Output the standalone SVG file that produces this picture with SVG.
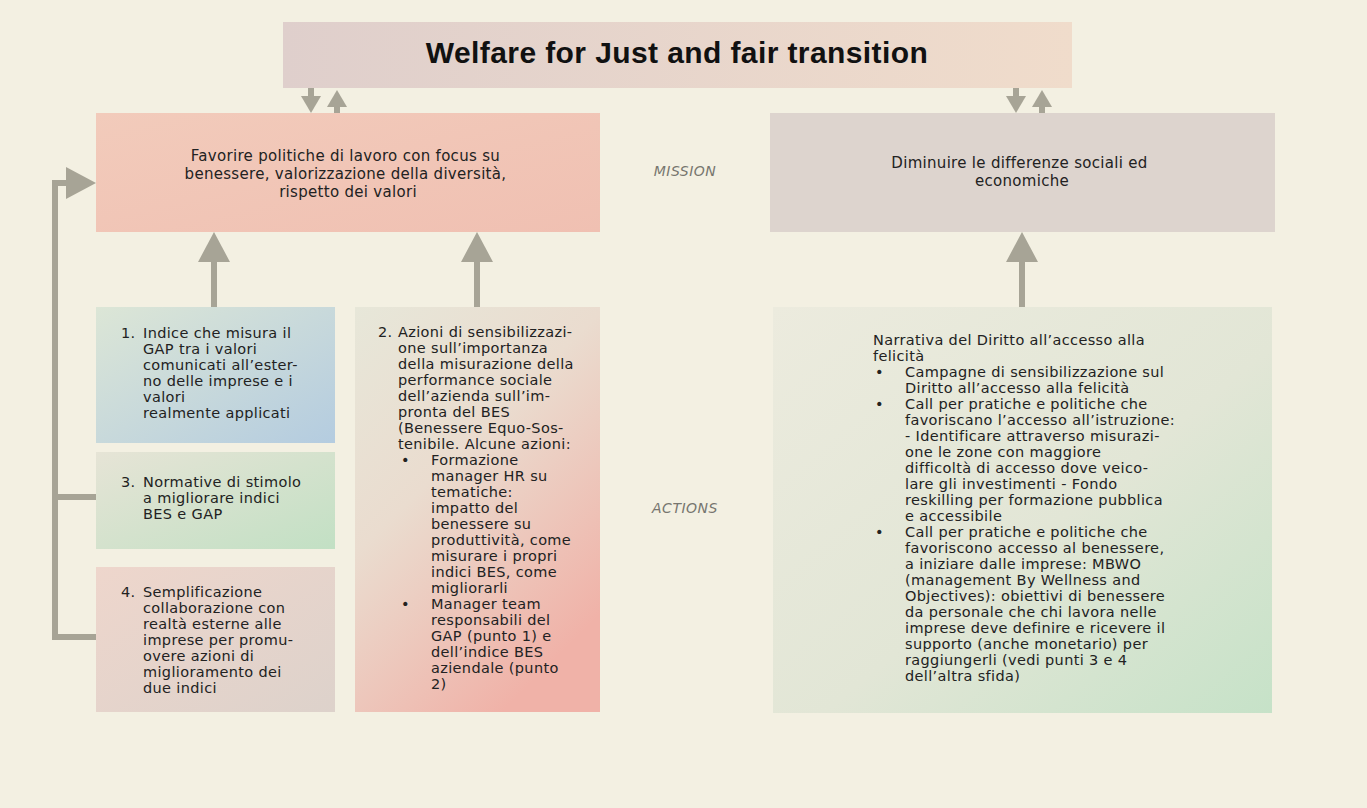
<svg xmlns="http://www.w3.org/2000/svg" width="1367" height="808" viewBox="0 0 1367 808">
  <style>
    .title { font-family: "Liberation Sans", Arial, sans-serif; font-weight: bold; font-size: 30px; fill: #111; letter-spacing: 0.4px; }
    .mission { font-family: "DejaVu Sans", "Noto Sans", sans-serif; font-size: 15px; fill: #222; letter-spacing: 0.3px; }
    .body { font-family: "DejaVu Sans", "Noto Sans", sans-serif; font-size: 14.5px; fill: #222; letter-spacing: 0.35px; }
    .label { font-family: "DejaVu Sans", "Noto Sans", sans-serif; font-size: 14px; font-style: italic; fill: #77766f; letter-spacing: 0.5px; }
    .conn { fill: none; stroke: #a7a496; stroke-width: 6; }
  </style>
  <defs>
    <marker id="head" markerUnits="userSpaceOnUse" markerWidth="30" markerHeight="32" viewBox="0 0 30 32" refX="0" refY="16" orient="auto">
      <path d="M0,0 L30,16 L0,32 z" fill="#a7a496"/>
    </marker>
    <marker id="headSm" markerUnits="userSpaceOnUse" markerWidth="17" markerHeight="20" viewBox="0 0 17 20" refX="0" refY="10" orient="auto">
      <path d="M0,0 L17,10 L0,20 z" fill="#a7a496"/>
    </marker>
    <linearGradient id="gTop" x1="0" y1="0" x2="1" y2="0">
      <stop offset="0" stop-color="#dfcfcc"/>
      <stop offset="1" stop-color="#f0dccb"/>
    </linearGradient>
    <linearGradient id="gMissL" x1="0" y1="0" x2="1" y2="1">
      <stop offset="0" stop-color="#f2cbbb"/>
      <stop offset="1" stop-color="#f0c0b2"/>
    </linearGradient>
    <linearGradient id="gB1" x1="0" y1="0" x2="1" y2="1">
      <stop offset="0" stop-color="#dce6d6"/>
      <stop offset="1" stop-color="#b4cce0"/>
    </linearGradient>
    <linearGradient id="gB2" x1="0" y1="0" x2="0.6" y2="1">
      <stop offset="0" stop-color="#e7e7d9"/>
      <stop offset="0.45" stop-color="#eadccf"/>
      <stop offset="1" stop-color="#f0b2a8"/>
    </linearGradient>
    <linearGradient id="gB3" x1="0" y1="0" x2="1" y2="1">
      <stop offset="0" stop-color="#e6e4d6"/>
      <stop offset="1" stop-color="#c2e0c4"/>
    </linearGradient>
    <linearGradient id="gB4" x1="0" y1="0" x2="1" y2="1">
      <stop offset="0" stop-color="#eed6cc"/>
      <stop offset="1" stop-color="#ddd2cb"/>
    </linearGradient>
    <linearGradient id="gB5" x1="0" y1="0" x2="1" y2="1">
      <stop offset="0" stop-color="#ecebde"/>
      <stop offset="0.55" stop-color="#e2e6d6"/>
      <stop offset="1" stop-color="#c6e2c8"/>
    </linearGradient>
  </defs>

  <!-- paper background -->
  <rect x="0" y="0" width="1367" height="808" fill="#f3f0e2"/>

  <!-- connectors -->
  <g id="connectors">
    <line class="conn" x1="311" y1="88" x2="311" y2="96" marker-end="url(#headSm)"/>
    <line class="conn" x1="337" y1="113" x2="337" y2="107" marker-end="url(#headSm)"/>
    <line class="conn" x1="1016" y1="88" x2="1016" y2="96" marker-end="url(#headSm)"/>
    <line class="conn" x1="1042" y1="113" x2="1042" y2="107" marker-end="url(#headSm)"/>
    <line class="conn" x1="214" y1="307" x2="214" y2="262" marker-end="url(#head)"/>
    <line class="conn" x1="477" y1="307" x2="477" y2="262" marker-end="url(#head)"/>
    <line class="conn" x1="1022" y1="307" x2="1022" y2="262" marker-end="url(#head)"/>
    <path class="conn" d="M96,637 H55 V183 H66" marker-end="url(#head)"/>
    <path class="conn" d="M55,497 H96"/>
  </g>

  <!-- title -->
  <g id="title">
    <rect x="283" y="22" width="789" height="66" fill="url(#gTop)"/>
    <text class="title" x="677" y="63" text-anchor="middle">Welfare for Just and fair transition</text>
  </g>

  <!-- mission boxes -->
  <g id="mission-left">
    <rect x="96" y="113" width="504" height="119" fill="url(#gMissL)"/>
    <text class="mission" text-anchor="middle">
      <tspan x="348" y="161">Favorire politiche di lavoro con focus su</tspan>
      <tspan x="348" y="179">benessere, valorizzazione della diversità,</tspan>
      <tspan x="348" y="197">rispetto dei valori</tspan>
    </text>
  </g>
  <g id="mission-right">
    <rect x="770" y="113" width="505" height="119" fill="#ddd4ce"/>
    <text class="mission" text-anchor="middle">
      <tspan x="1022" y="168">Diminuire le differenze sociali ed</tspan>
      <tspan x="1022" y="186">economiche</tspan>
    </text>
  </g>

  <!-- row labels -->
  <g id="labels">
    <text class="label" x="685" y="176" text-anchor="middle">MISSION</text>
    <text class="label" x="685" y="513" text-anchor="middle">ACTIONS</text>
  </g>

  <!-- action 1 -->
  <g id="action-1">
    <rect x="96" y="307" width="239" height="136" fill="url(#gB1)"/>
    <text class="body">
      <tspan x="121" y="338">1.</tspan>
      <tspan x="143" y="338">Indice che misura il</tspan>
      <tspan x="143" y="354">GAP tra i valori</tspan>
      <tspan x="143" y="370">comunicati all’ester-</tspan>
      <tspan x="143" y="386">no delle imprese e i</tspan>
      <tspan x="143" y="402">valori</tspan>
      <tspan x="143" y="418">realmente applicati</tspan>
    </text>
  </g>

  <!-- action 3 -->
  <g id="action-3">
    <rect x="96" y="452" width="239" height="97" fill="url(#gB3)"/>
    <text class="body">
      <tspan x="121" y="487">3.</tspan>
      <tspan x="143" y="487">Normative di stimolo</tspan>
      <tspan x="143" y="503">a migliorare indici</tspan>
      <tspan x="143" y="519">BES e GAP</tspan>
    </text>
  </g>

  <!-- action 4 -->
  <g id="action-4">
    <rect x="96" y="567" width="239" height="145" fill="url(#gB4)"/>
    <text class="body">
      <tspan x="121" y="597">4.</tspan>
      <tspan x="143" y="597">Semplificazione</tspan>
      <tspan x="143" y="613">collaborazione con</tspan>
      <tspan x="143" y="629">realtà esterne alle</tspan>
      <tspan x="143" y="645">imprese per promu-</tspan>
      <tspan x="143" y="661">overe azioni di</tspan>
      <tspan x="143" y="677">miglioramento dei</tspan>
      <tspan x="143" y="693">due indici</tspan>
    </text>
  </g>

  <!-- action 2 -->
  <g id="action-2">
    <rect x="355" y="307" width="245" height="405" fill="url(#gB2)"/>
    <text class="body">
      <tspan x="378" y="337">2.</tspan>
      <tspan x="398" y="337">Azioni di sensibilizzazi-</tspan>
      <tspan x="398" y="353">one sull’importanza</tspan>
      <tspan x="398" y="369">della misurazione della</tspan>
      <tspan x="398" y="385">performance sociale</tspan>
      <tspan x="398" y="401">dell’azienda sull’im-</tspan>
      <tspan x="398" y="417">pronta del BES</tspan>
      <tspan x="398" y="433">(Benessere Equo-Sos-</tspan>
      <tspan x="398" y="449">tenibile. Alcune azioni:</tspan>
      <tspan x="401" y="465">•</tspan>
      <tspan x="431" y="465">Formazione</tspan>
      <tspan x="431" y="481">manager HR su</tspan>
      <tspan x="431" y="497">tematiche:</tspan>
      <tspan x="431" y="513">impatto del</tspan>
      <tspan x="431" y="529">benessere su</tspan>
      <tspan x="431" y="545">produttività, come</tspan>
      <tspan x="431" y="561">misurare i propri</tspan>
      <tspan x="431" y="577">indici BES, come</tspan>
      <tspan x="431" y="593">migliorarli</tspan>
      <tspan x="401" y="609">•</tspan>
      <tspan x="431" y="609">Manager team</tspan>
      <tspan x="431" y="625">responsabili del</tspan>
      <tspan x="431" y="641">GAP (punto 1) e</tspan>
      <tspan x="431" y="657">dell’indice BES</tspan>
      <tspan x="431" y="673">aziendale (punto</tspan>
      <tspan x="431" y="689">2)</tspan>
    </text>
  </g>

  <!-- action right -->
  <g id="action-right">
    <rect x="773" y="307" width="499" height="406" fill="url(#gB5)"/>
    <text class="body">
      <tspan x="873" y="345">Narrativa del Diritto all’accesso alla</tspan>
      <tspan x="873" y="361">felicità</tspan>
      <tspan x="875" y="377">•</tspan>
      <tspan x="905" y="377">Campagne di sensibilizzazione sul</tspan>
      <tspan x="905" y="393">Diritto all’accesso alla felicità</tspan>
      <tspan x="875" y="409">•</tspan>
      <tspan x="905" y="409">Call per pratiche e politiche che</tspan>
      <tspan x="905" y="425">favoriscano l’accesso all’istruzione:</tspan>
      <tspan x="905" y="441">- Identificare attraverso misurazi-</tspan>
      <tspan x="905" y="457">one le zone con maggiore</tspan>
      <tspan x="905" y="473">difficoltà di accesso dove veico-</tspan>
      <tspan x="905" y="489">lare gli investimenti - Fondo</tspan>
      <tspan x="905" y="505">reskilling per formazione pubblica</tspan>
      <tspan x="905" y="521">e accessibile</tspan>
      <tspan x="875" y="537">•</tspan>
      <tspan x="905" y="537">Call per pratiche e politiche che</tspan>
      <tspan x="905" y="553">favoriscono accesso al benessere,</tspan>
      <tspan x="905" y="569">a iniziare dalle imprese: MBWO</tspan>
      <tspan x="905" y="585">(management By Wellness and</tspan>
      <tspan x="905" y="601">Objectives): obiettivi di benessere</tspan>
      <tspan x="905" y="617">da personale che chi lavora nelle</tspan>
      <tspan x="905" y="633">imprese deve definire e ricevere il</tspan>
      <tspan x="905" y="649">supporto (anche monetario) per</tspan>
      <tspan x="905" y="665">raggiungerli (vedi punti 3 e 4</tspan>
      <tspan x="905" y="681">dell’altra sfida)</tspan>
    </text>
  </g>
</svg>
